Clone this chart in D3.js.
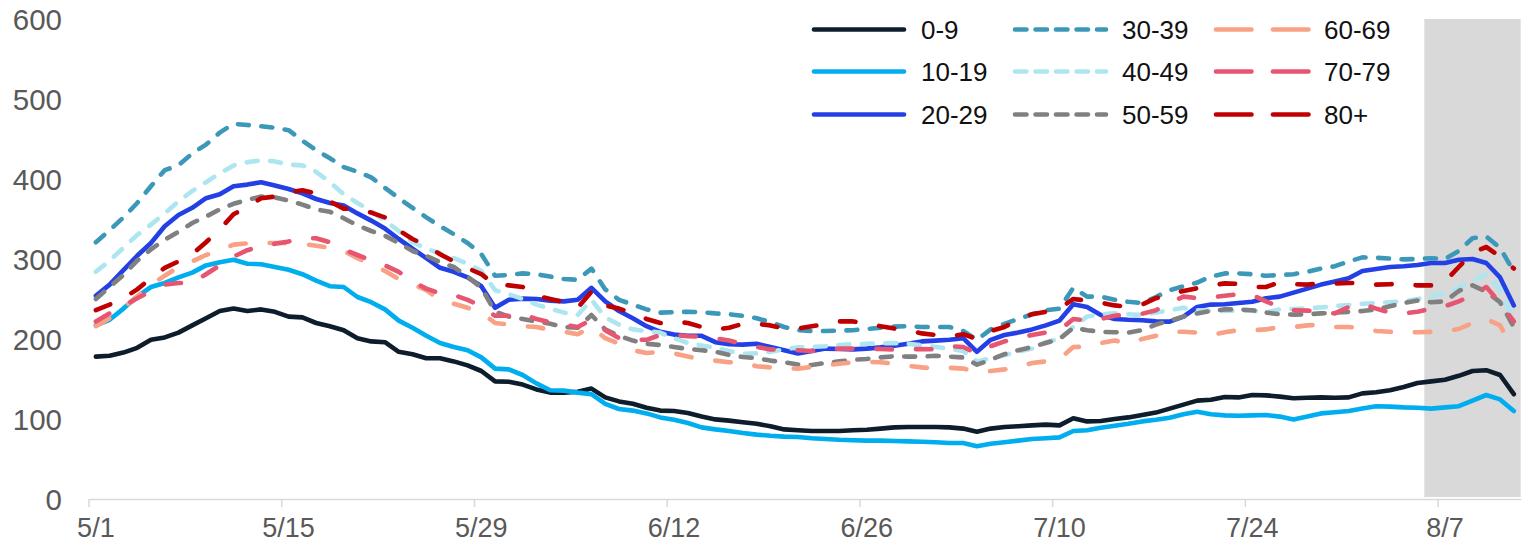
<!DOCTYPE html>
<html><head><meta charset="utf-8">
<script src="https://cdn.jsdelivr.net/npm/d3@7"></script>
<style>
html,body{margin:0;padding:0;background:#fff;}
svg{display:block;font-family:"Liberation Sans",Arial,Helvetica,sans-serif;}
</style></head>
<body><svg id="chart" width="1527" height="548"></svg>
<script>
// ---------- data ----------
const firstDay = new Date(2021, 4, 1);   // 5/1
const dayCount = 104;                     // 5/1 .. 8/12
const tickEvery = 14;
const shadeFromDay = 97;                  // 8/6 .. end shaded
const yTicks = [0, 100, 200, 300, 400, 500, 600];

const seriesNames = ["0-9", "10-19", "20-29", "30-39", "40-49", "50-59", "60-69", "70-79", "80+"];

const age0_9 = [178,179,183,189,199,202,208,217,226,235, 238,235,237,234,228,227,220,216,211,201,
  197,196,184,181,176,176,172,167,160,147, 146.5,143,137,133,133,134,138,127,122,119,
  114,110.5,110,107.5,103,99.5,98,96,94,91, 87,86,85,85,85,86,86.5,88,89.5,90,
  90,90,89.5,88,84,88,90,91,92,93, 92,101,97,97.5,100,102,105,108,113,118,
  123,124,127.5,127,130,129.5,128,126,126.5,127, 126.5,127,132,133.5,136,140,145,147,149,154,
  160,161,155,131];
const age10_19 = [217,224,238,253,265,270,277,283,292,296, 299,294,293.5,290,286.5,281,273,266,265,252.5,
  246,237,223,214,204,195,190,186,177,163, 162,155,144.5,136,135.5,133,131,119,112.5,110.5,
  107,102,99,95,89.5,87,85,82.5,80.5,79, 78,77.5,76,75,74,73.5,73,73,72.5,72,
  71.5,71,70,70,66,69,71,73,75,76, 77,85,86,89,91.5,94,97,99,101.5,106,
  109,106,104.5,104,104.5,105,103,99.5,103,107, 108.5,110,113,116,115.5,114.5,114,113,114.5,116,
  123,130,124.5,110];
const age20_29 = [254,268,286,304,320,341,355,364,376,381, 391,393,396,392,387.5,382,375,370,367,357,
  348,338,325,313,301,289,284,277,266,239, 249,250.5,250,248,247,249,264,247,235,226,
  216,209,205.5,204,204,196,193.5,193,194,190, 186,182,185,188,187.5,187,188,189.5,191.5,194,
  197,198,199,201,184,199,205,208,212,217, 223,243.5,240,230,225,224,223.5,222,221.7,228,
  240,243,243.5,245,246.5,251,253,258,263,268, 272,276,285,287.5,290,291,292.5,295,295,299,
  300,295,277,242];
const age30_39 = [321,336,352,370,391,411,417,432,443,458, 469,467.5,466,464,461,448,436,426,415,409,
  402,389,376,364,352,341,331,320,306,279, 280,282,281,278,275,274,288,262,249,243,
  237,233,233.5,234,233.5,232,231,229,226,221, 215,211,210,210,210.5,211,212.5,214,215.5,216,
  215,215,215,210,199,212,219,225,231,236, 238,264,253,253,249,246.5,245,252.5,261,266,
  270.5,278,282,282,281,279,280,281,284,288, 291,297,302,301.5,300.5,299.5,300,301,300,310,
  326,328,314,284];
const age40_49 = [284,298,314,330,343,357,372,385,396,407, 417,421,423.5,422,418,417,409,396,381,370,
  360,348,335,321,313,307,301,294,285,261, 256,250,243,238,233,230,249,227,218,212,
  210,208,201,195,192,189,185,181.5,182,184, 187,189.5,190,191,192.5,193.5,194,194.5,195,194,
  192,190,188,185,172,176,180,184,188,196, 200,215,228,231,232,231,230,233,236,239,
  236,235,235,235.5,235.5,233,237,237.5,238.5,239.5, 241,242.5,244,245,246,247,250,253,258,264,
  273,281,262,222];
const age50_59 = [250,265,280,298,312,324,334,345,353,362, 369,374,378,377,373,368,362,359,351,342,
  335,329,320,310,304,296,290,278,264,234, 228,225,222,219,215,214,230,212,204,198,
  194,192.5,190,187.5,186,184,180,177.5,176,173, 171,168,167.5,170,172,174,175,177,178.5,178,
  178,179,178,177,168,174,181,186,190,195, 200,214,211,209,208.5,208,211,218,223,228,
  232,235,237,237,236,233,231,230.5,231,232, 233,234,235,237,241,245,248,246,247,260,
  267,259,246,215];
const age60_69 = [216,226,239,253,268,279,290,297,305,311, 318,319.5,320,320,320,319,316.5,314,310,301,
  294,285,275,268.5,261,249,244,239,233,220, 218,216,215,211.5,209,206,215,201,194,186,
  182.5,184,182,178,174.5,173,171,170,166,164.5, 163.5,163,165,167,169,171,171.5,171,169,166.5,
  164.5,163,164,163,159,160,162,165,170,172, 175,190,190.5,195,198,195,200,204,209,209,
  208,205,208.5,211,211,212,215,215,217,218, 215,215,214,210,209,208,208.5,209,210,212.5,
  220,225,217,186];
const age70_79 = [222,232,241,251,260,268,270,270,281,292, 303,311,316,319,322,325.5,326,321,312,305,
  298,292,284,272,263,257,255,249,241,229, 229,231,225,221,218,215,224,211,201,199,
  199,205,205,203.5,203,201,198,194,190,187, 186.5,186,185,187,188,188,188,187.5,187,187,
  187.5,187,191,190,182,191,197,201,205,208, 211,225,223,225,229,231,231.5,236,245,253,
  251,252,254,256,255,247,240,236,235.5,234, 232,240,244,238,233,232,234,238,241,247,
  255,265,245,222];
const age80plus = [236,243,251,262,276,289,297,306,321,337, 356,365,376,378,383,386,382,372,363,362,
  358,352,336,325,317,306,297,288.5,281,268, 267,265,254,250,246,239,259,242,238,232,
  225,220,222,220,215,212,214,219,219,217, 213,213,216,218.5,222,222,219,216,213,211,
  207,205,203,206,200,210,215,224,231,234, 238,250,248,245.5,242,240,243,251,256,260,
  263.5,267,269.5,269,265,265,271,268.5,268,269.5, 269.5,270,270,268,268.5,269,267,267,272,290,
  308,315,303,288];

const seriesValues = [age0_9, age10_19, age20_29, age30_39, age40_49, age50_59, age60_69, age70_79, age80plus];

// ---------- styles ----------
const colors = ["#0d1d2c", "#00adef", "#2340e6", "#3c98b8", "#ade6f0", "#808080", "#f8a184", "#e75670", "#c00000"];
const dashKind = ["solid", "solid", "solid", "short", "short", "short", "long", "long", "long"];
const plotDash = {solid: null, short: "11 12.5", long: "15.5 24"};
const legendDash = {solid: null, short: "11.5 9", long: "35.5 21.5"};

const plotL = 89, plotR = 1520.7, plotT = 19, plotB = 499;
const lineW = 4.6;

const svg = d3.select("#chart");
const dates = d3.timeDays(firstDay, d3.timeDay.offset(firstDay, dayCount));

const x = d3.scaleBand().domain(dates).range([plotL, plotR]).paddingInner(0).paddingOuter(0);
const bw = x.bandwidth();
const y = d3.scaleLinear().domain([0, 600]).range([plotB, plotT]);

// shaded region
svg.append("rect")
  .attr("x", x(dates[shadeFromDay]))
  .attr("y", y(600))
  .attr("width", plotR - x(dates[shadeFromDay]))
  .attr("height", y(0) - y(600) - 2)
  .attr("fill", "#d9d9d9");

// x axis
const fmt = d3.timeFormat("%-m/%-d");
const tickDates = dates.filter((d, i) => i % tickEvery === 0);
const xAxis = d3.axisBottom(x).tickValues(tickDates).tickFormat(fmt).tickSize(0).tickPadding(19).tickSizeOuter(0);
const gx = svg.append("g").attr("transform", `translate(0,${plotB})`).call(xAxis);
gx.select(".domain").attr("stroke", "#d9d9d9").attr("stroke-width", 1.5);
gx.selectAll(".tick text").attr("fill", "#595959").attr("font-size", 27)
  .attr("font-family", '"Liberation Sans", Arial, sans-serif');
// tick marks at day boundaries
svg.append("g").selectAll("line").data(tickDates).join("line")
  .attr("x1", d => x(d)).attr("x2", d => x(d))
  .attr("y1", plotB).attr("y2", plotB + 8)
  .attr("stroke", "#d9d9d9").attr("stroke-width", 1.5);

// y axis labels
const yAxis = d3.axisLeft(y).tickValues(yTicks).tickSize(0).tickPadding(0);
const gy = svg.append("g").attr("transform", "translate(62,0)").call(yAxis);
gy.select(".domain").remove();
gy.selectAll(".tick text").attr("fill", "#595959").attr("font-size", 29.5).attr("dy", "0.36em")
  .attr("font-family", '"Liberation Sans", Arial, sans-serif');

// lines
const line = d3.line()
  .x((v, i) => x(dates[i]) + bw / 2)
  .y(v => y(v));

const gLines = svg.append("g");
seriesValues.forEach((vals, k) => {
  gLines.append("path")
    .datum(vals)
    .attr("d", line)
    .attr("fill", "none")
    .attr("stroke", colors[k])
    .attr("stroke-width", lineW)
    .attr("stroke-linejoin", "round")
    .attr("stroke-linecap", "round")
    .attr("stroke-dasharray", plotDash[dashKind[k]]);
});

// legend
const colLineX0 = [814, 1015, 1216];
const colLineX1 = [904, 1106, 1309];
const colTextX = [921, 1122, 1324];
const rowY = [29.5, 71.5, 114.5];
const gLeg = svg.append("g");
seriesNames.forEach((name, k) => {
  const c = Math.floor(k / 3), r = k % 3;
  gLeg.append("line")
    .attr("x1", colLineX0[c]).attr("x2", colLineX1[c])
    .attr("y1", rowY[r]).attr("y2", rowY[r])
    .attr("stroke", colors[k]).attr("stroke-width", lineW)
    .attr("stroke-linecap", "round")
    .attr("stroke-dasharray", legendDash[dashKind[k]]);
  gLeg.append("text")
    .attr("x", colTextX[c]).attr("y", rowY[r]).attr("dy", "0.36em")
    .attr("font-size", 26).attr("fill", "#111")
    .text(name);
});
</script>
</body></html>
